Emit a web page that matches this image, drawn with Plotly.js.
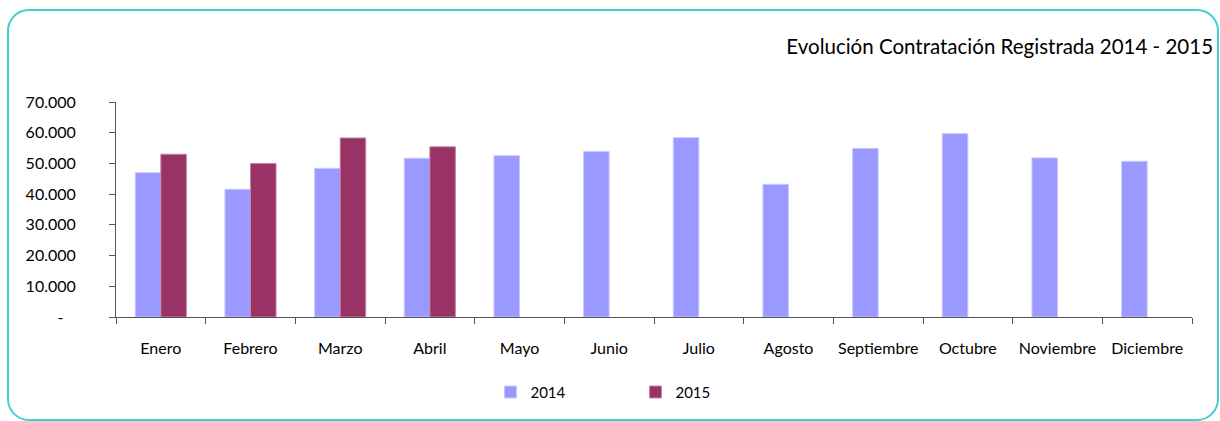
<!DOCTYPE html>
<html>
<head>
<meta charset="utf-8">
<script src="https://cdn.plot.ly/plotly-3.0.1.min.js"></script>
<style>
  html, body { margin: 0; padding: 0; background: #fff; }
  #wrap { position: relative; width: 1220px; height: 421px; overflow: hidden; }
  #frame { position: absolute; left: 7px; top: 9px; width: 1208px; height: 408px;
           border: 2px solid #3fcfcf; border-radius: 22px; pointer-events: none; }
  #chart { position: absolute; left: 0; top: 0; width: 1220px; height: 421px; }
</style>
</head>
<body>
<div id="wrap">
  <div id="chart"></div>
  <div id="frame"></div>
</div>
<script>
const months = ["Enero","Febrero","Marzo","Abril","Mayo","Junio","Julio","Agosto","Septiembre","Octubre","Noviembre","Diciembre"];
const values2014 = [47000, 41600, 48400, 51700, 52500, 53900, 58400, 43200, 54900, 59700, 51800, 50700];
const values2015 = [53000, 50000, 58300, 55400, null, null, null, null, null, null, null, null];
const yTickVals = [0, 10000, 20000, 30000, 40000, 50000, 60000, 70000];
const yTickText = ["-\u00a0\u00a0\u00a0", "10.000", "20.000", "30.000", "40.000", "50.000", "60.000", "70.000"];
const seriesNames = ["2014", "2015"];
const titleText = "Evolución Contratación Registrada 2014 - 2015";

const FONT = "Lato, 'Open Sans', sans-serif";

const traces = [
  { type: "bar", name: seriesNames[0], x: months, y: values2014,
    marker: { color: "#9999ff", line: { color: "#c8c8ff", width: 1 } } },
  { type: "bar", name: seriesNames[1], x: months, y: values2015,
    marker: { color: "#993366", line: { color: "#c08aa4", width: 1 } } }
];

const layout = {
  width: 1220, height: 421,
  margin: { l: 116, r: 28, t: 102, b: 104 },
  paper_bgcolor: "rgba(0,0,0,0)",
  plot_bgcolor: "rgba(0,0,0,0)",
  barmode: "group",
  bargap: 0.43,
  bargroupgap: 0,
  font: { family: FONT, size: 16, color: "#000" },
  title: { text: titleText, font: { family: FONT, size: 20.5, color: "#000" },
           x: 0.9943, xanchor: "right", xref: "container", y: 0.888, yanchor: "middle", yref: "container" },
  showlegend: true,
  legend: { orientation: "h", x: 0.348, xanchor: "left", y: -0.35, yanchor: "middle",
            font: { family: FONT, size: 15, color: "#000" },
            entrywidth: 100, entrywidthmode: "pixels", traceorder: "normal" },
  xaxis: {
    type: "category",
    showgrid: false, zeroline: false,
    showline: true, linecolor: "#555", linewidth: 1,
    ticks: "outside", ticklen: 6, tickcolor: "#555", tickson: "boundaries",
    tickfont: { family: FONT, size: 16, color: "#000" },
    ticklabelstandoff: 17,
    fixedrange: true
  },
  yaxis: {
    range: [0, 70000],
    tickvals: yTickVals, ticktext: yTickText,
    showgrid: false, zeroline: false,
    showline: true, linecolor: "#555", linewidth: 1,
    ticks: "outside", ticklen: 6, tickcolor: "#555",
    tickfont: { family: FONT, size: 16, color: "#000" },
    ticklabelstandoff: 30,
    fixedrange: true
  }
};

Plotly.newPlot("chart", traces, layout, { displayModeBar: false, staticPlot: true });
</script>
</body>
</html>
